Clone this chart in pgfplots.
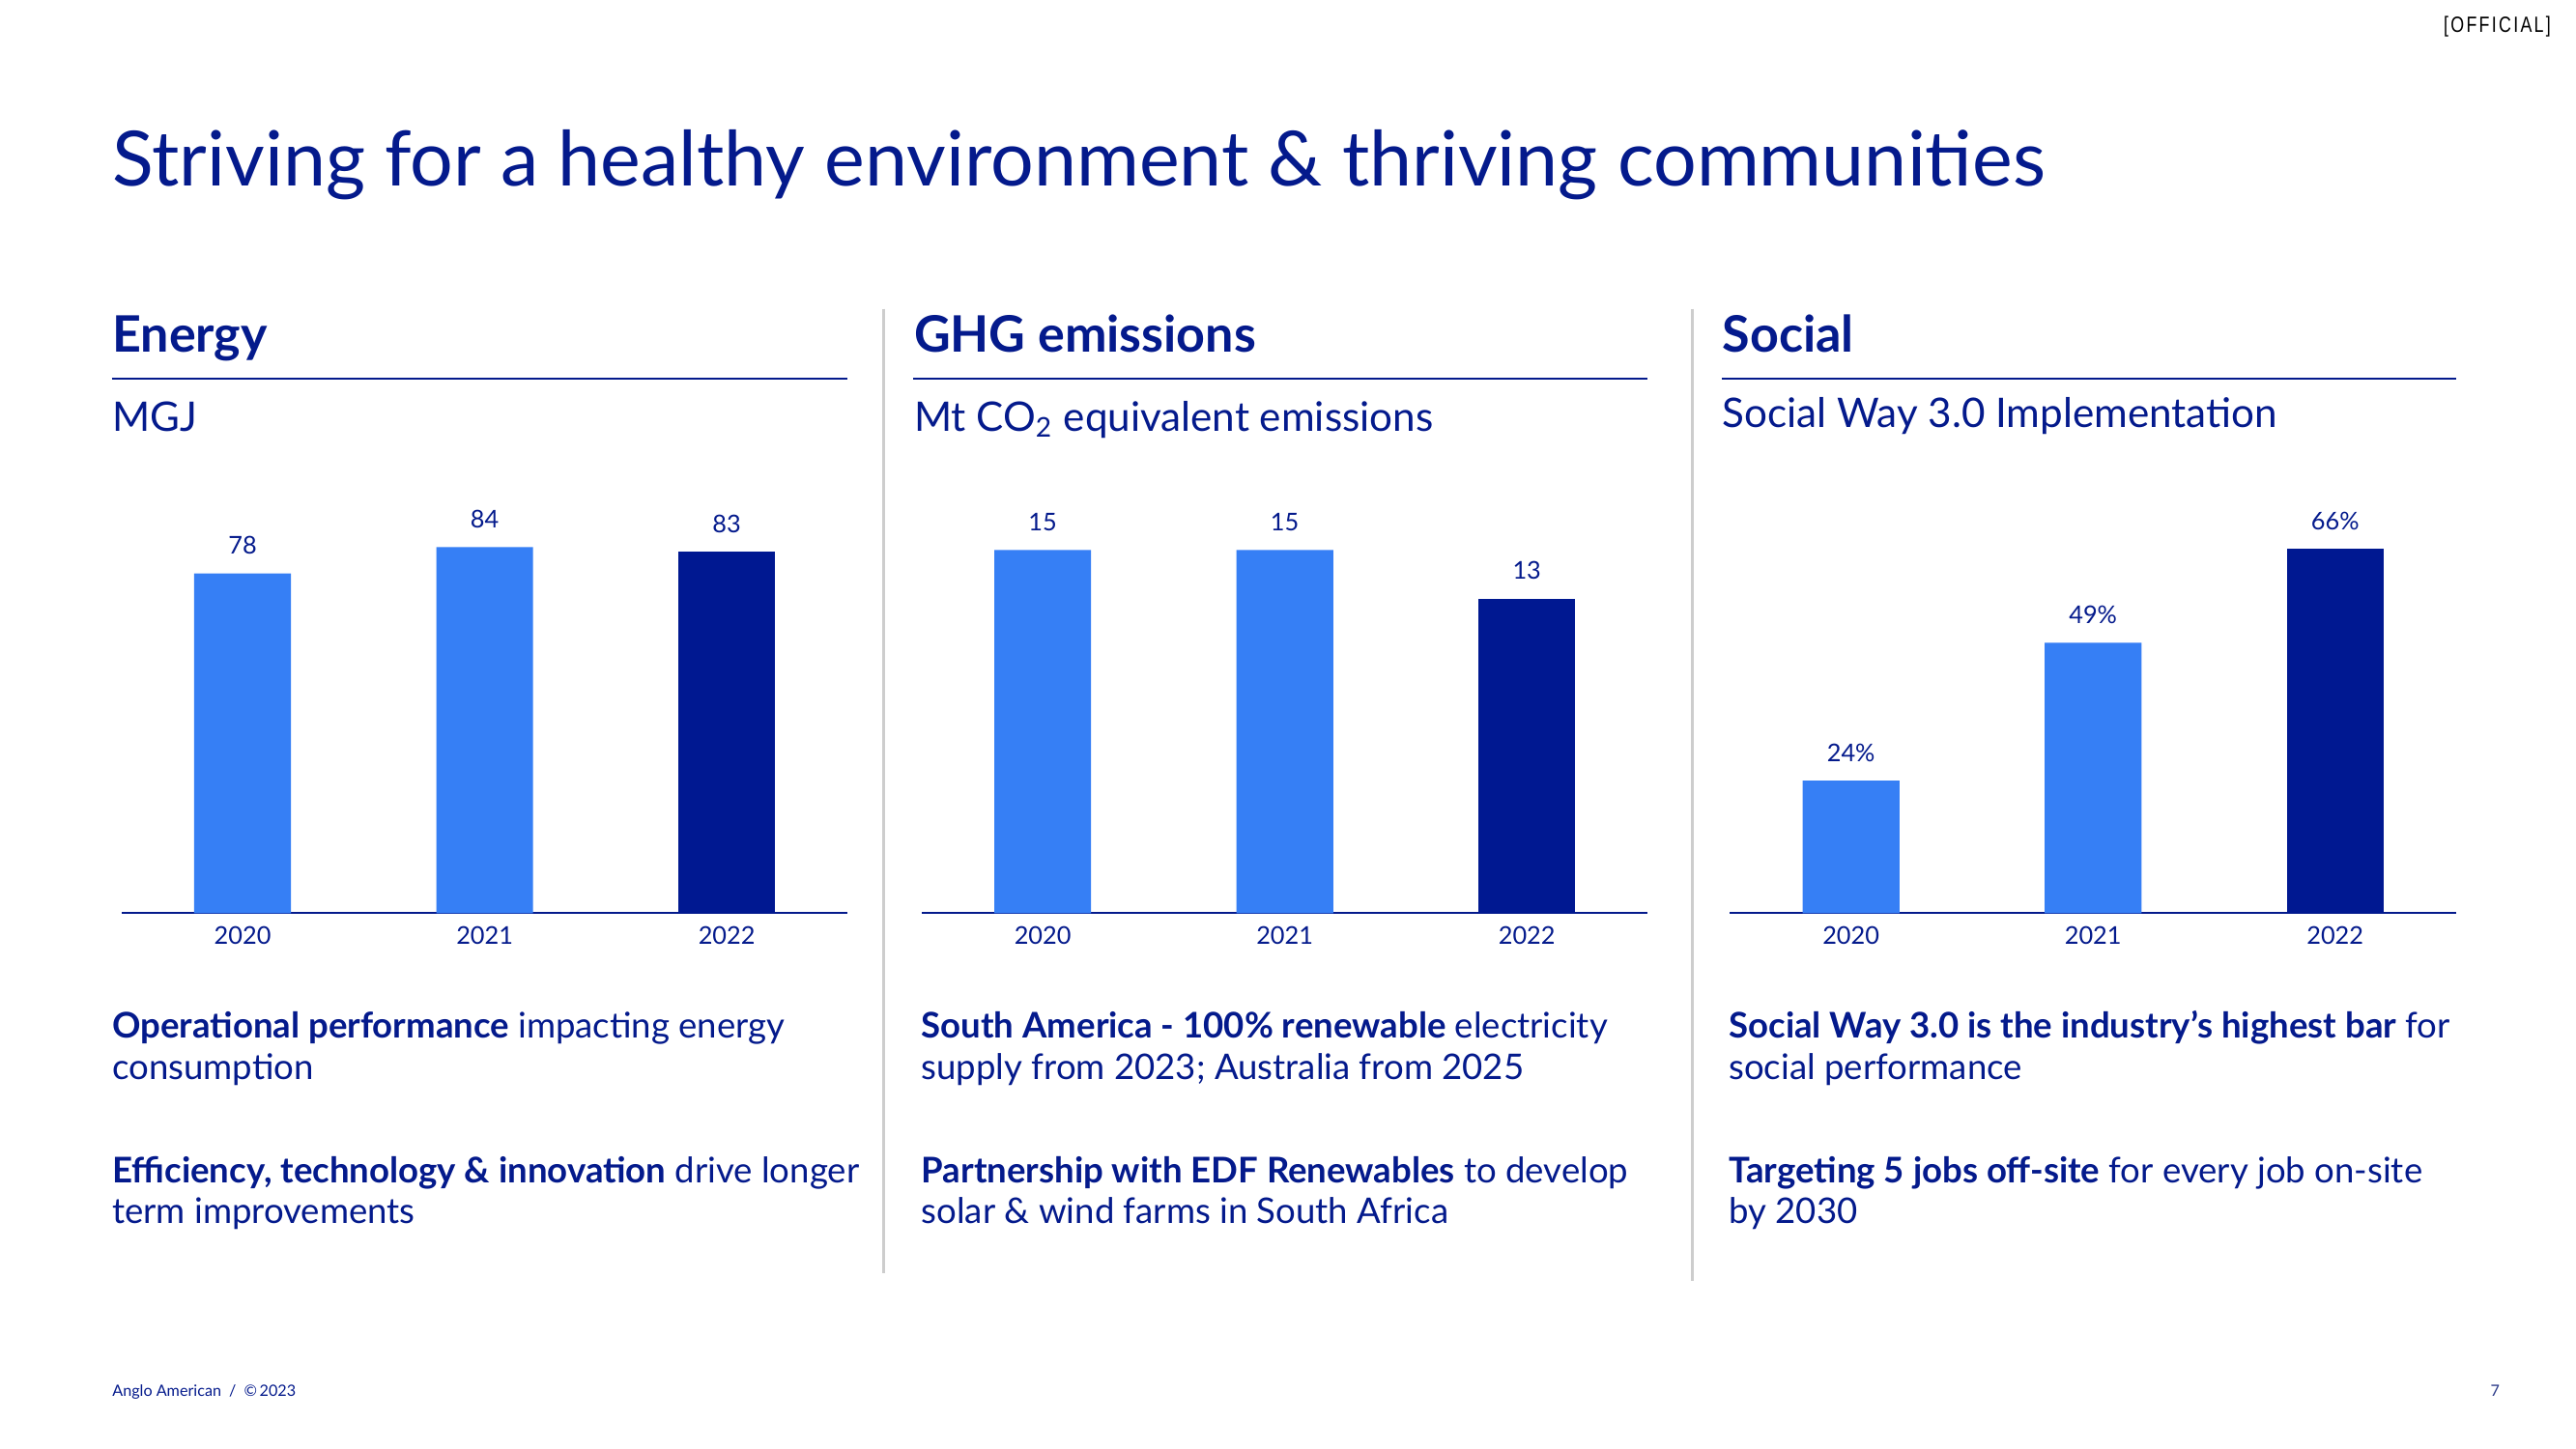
\documentclass[border=0pt]{standalone}
\usepackage{fontspec}
\usepackage{pgfplots}
\pgfplotsset{compat=1.18}
\setmainfont{Lato}
\newfontfamily\offfont[FakeStretch=0.78, LetterSpace=10]{Liberation Sans}
\definecolor{navy}{RGB}{4,26,140}
\definecolor{lightbar}{RGB}{54,127,245}
\definecolor{darkbar}{RGB}{0,24,145}
\definecolor{sepgray}{RGB}{205,205,205}
\newcommand\titlef{\fontsize{22.45}{27}\selectfont}
\newcommand\headf{\fontsize{14.8}{18}\selectfont\bfseries}
\newcommand\subf{\fontsize{12}{14}\selectfont}
\newcommand\bodyf{\fontsize{10.4}{12.5}\selectfont}
\newcommand\numf{\fontsize{7.2}{8.5}\selectfont}
\newcommand\footf{\fontsize{4.6}{6}\selectfont}
\pgfplotsset{
  slidebar/.style={
    scale only axis, width=7.514cm, height=4.352cm,
    xmin=-0.5, xmax=2.5, ymin=0,
    axis x line*=bottom, axis y line=none,
    x axis line style={draw=navy, line width=0.6pt, -},
    xtick={0,1,2}, xticklabels={2020,2021,2022},
    major tick length=0pt,
    /pgf/number format/assume math mode=true,
    xticklabel style={font=\numf, text=navy, yshift=-0.5pt},
    ybar, bar width=0.4,
    nodes near coords,
    every node near coord/.append style={font=\numf, text=navy, yshift=2.0pt},
    clip=false,
  }
}
\begin{document}
\begin{tikzpicture}[x=0.017cm, y=-0.017cm]
\path[fill=white] (0,0) rectangle (1568,882);
% top
\node[anchor=base east, inner sep=0, font=\offfont\fontsize{6.5}{8}\selectfont, text=black] at (1553,19.5) {[OFFICIAL]};
\node[anchor=base west, inner sep=0, font=\titlef, text=navy] at (68,113.3) {Striving for a healthy environment \& thriving communities};
% headers
\node[anchor=base west, inner sep=0, font=\headf, text=navy] at (68,214.5) {Energy};
\node[anchor=base west, inner sep=0, font=\headf, text=navy] at (556,214.5) {GHG emissions};
\node[anchor=base west, inner sep=0, font=\headf, text=navy] at (1048,214.5) {Social};
\draw[navy, line width=0.6pt] (68,230.4) -- (516,230.4);
\draw[navy, line width=0.6pt] (556,230.4) -- (1003,230.4);
\draw[navy, line width=0.6pt] (1048,230.4) -- (1495,230.4);
\node[anchor=base west, inner sep=0, font=\subf, text=navy] at (68,262.5) {MGJ};
\node[anchor=base west, inner sep=0, font=\subf, text=navy] at (556,262.5) {Mt CO\textsubscript{2} equivalent emissions};
\node[anchor=base west, inner sep=0, font=\subf, text=navy] at (1048,260) {Social Way 3.0 Implementation};
% separators
\draw[sepgray, line width=0.8pt] (538,188) -- (538,775);
\draw[sepgray, line width=0.8pt] (1030,188) -- (1030,780);
% axes anchors
\coordinate (A1) at (74,556);
\coordinate (A2) at (561,556);
\coordinate (A3) at (1053,556);
\begin{axis}[slidebar, at={(A1)}, anchor=south west, ymax=96.5]
\addplot[fill=lightbar, draw=none, bar shift=0pt] coordinates {(0,78) (1,84)};
\addplot[fill=darkbar, draw=none, bar shift=0pt] coordinates {(2,83)};
\end{axis}
\begin{axis}[slidebar, at={(A2)}, anchor=south west, ymax=17.37]
\addplot[fill=lightbar, draw=none, bar shift=0pt] coordinates {(0,15) (1,15)};
\addplot[fill=darkbar, draw=none, bar shift=0pt] coordinates {(2,13)};
\end{axis}
\begin{axis}[slidebar, at={(A3)}, anchor=south west, ymax=76.2,
  nodes near coords={\pgfmathprintnumber{\pgfplotspointmeta}\%}]
\addplot[fill=lightbar, draw=none, bar shift=0pt] coordinates {(0,24) (1,49)};
\addplot[fill=darkbar, draw=none, bar shift=0pt] coordinates {(2,66)};
\end{axis}
% body text
\begin{scope}[every node/.style={anchor=base west, inner sep=0, font=\bodyf, text=navy}]
\node at (68,632) {\textbf{Operational performance} impacting energy};
\node at (68,657) {consumption};
\node at (68,720) {\textbf{Efficiency, technology \& innovation} drive longer};
\node at (68,745) {term improvements};
\node at (560.5,632) {\textbf{South America - 100\% renewable} electricity};
\node at (560.5,657) {supply from 2023; Australia from 2025};
\node at (560.5,720) {\textbf{Partnership with EDF Renewables} to develop};
\node at (560.5,745) {solar \& wind farms in South Africa};
\node at (1052,632) {\textbf{Social Way 3.0 is the industry’s highest bar} for};
\node at (1052,657) {social performance};
\node at (1052,720) {\textbf{Targeting 5 jobs off-site} for every job on-site};
\node at (1052,745) {by 2030};
\end{scope}
% footer
\node[anchor=base west, inner sep=0, font=\footf, text=navy] at (68,850) {Anglo American\enspace/\enspace\textcopyright\,2023};
\node[anchor=base west, inner sep=0, font=\footf, text=navy!70!gray] at (1515.6,850) {7};
\end{tikzpicture}
\end{document}
